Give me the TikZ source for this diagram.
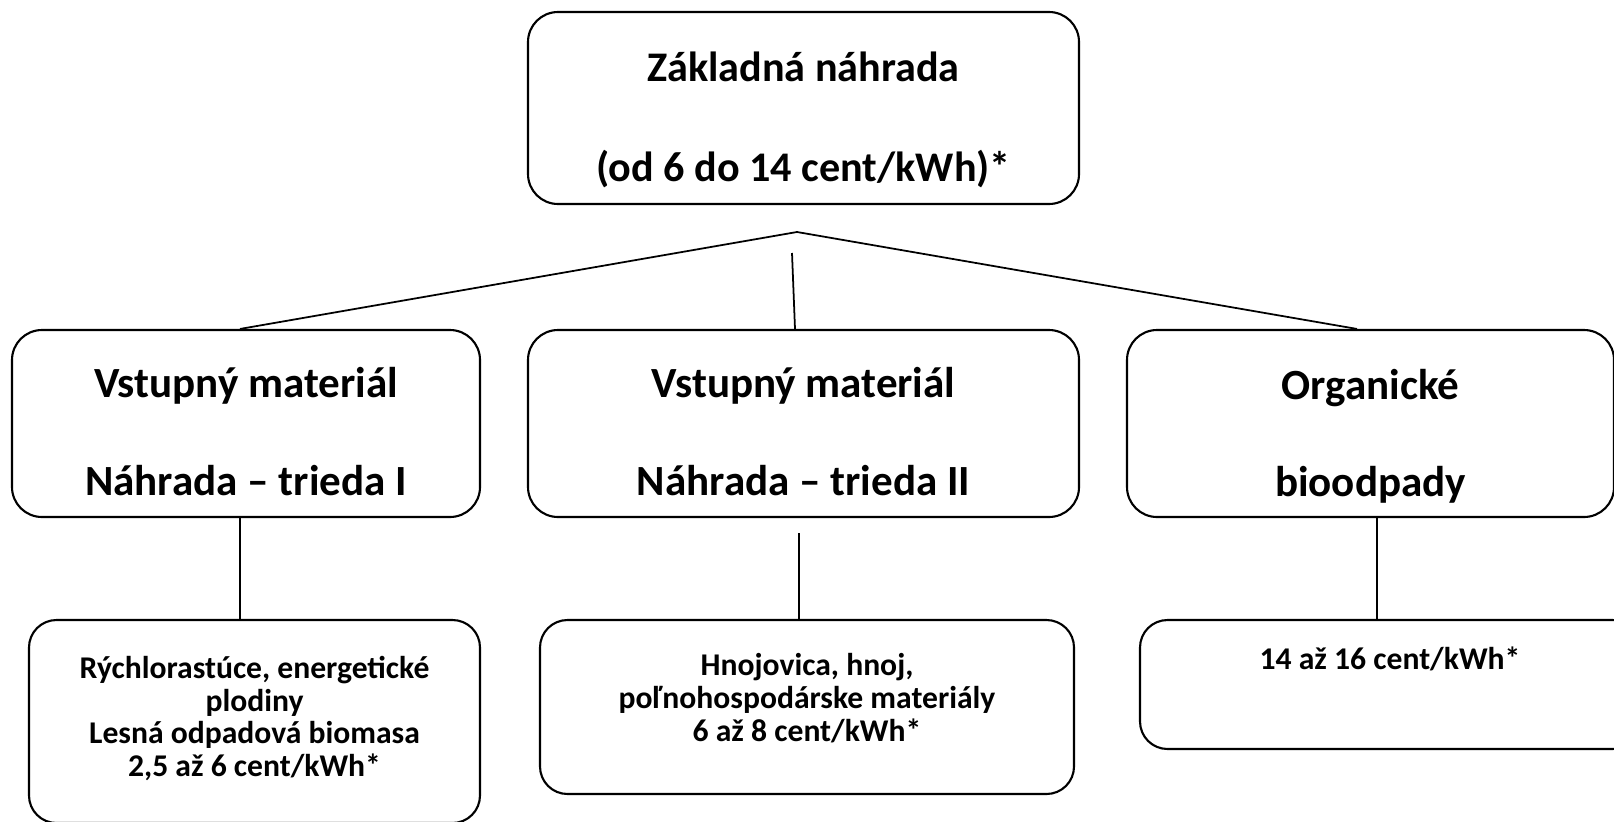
\documentclass[tikz,border=0pt]{standalone}
\usepackage{fontspec}
\setmainfont{Carlito}
\usetikzlibrary{positioning}

\begin{document}
\begin{tikzpicture}[
    box/.style ={rectangle, rounded corners=0.6cm, draw, line width=1.2pt},
    rate/.style ={box, rounded corners=0.55cm},
    head/.style ={align=center, font=\bfseries\fontsize{24}{56.6}\selectfont},
    head2/.style ={align=center, font=\bfseries\fontsize{24.5}{55.5}\selectfont},
    note/.style ={align=center, font=\bfseries\fontsize{18}{18.6}\selectfont},
    link/.style ={line width=1pt}]
   \clip (0,0) rectangle (32.28,-16.42);
   \node[box, minimum width=11.02cm, minimum height=3.84cm] (base) at (16.07,-2.16) {};
   \node[box, minimum width=9.36cm, minimum height=3.74cm] (mat1) at (4.92,-8.47) {};
   \node[box, minimum width=11.02cm, minimum height=3.74cm] (mat2) at (16.07,-8.47) {};
   \node[box, minimum width=9.74cm, minimum height=3.74cm] (bio) at (27.41,-8.47) {};
   \node[rate, minimum width=9.02cm, minimum height=4.06cm] (rate1) at (5.09,-14.43) {};
   \node[rate, minimum width=10.68cm, minimum height=3.48cm] (rate2) at (16.14,-14.14) {};
   \node[rate, minimum width=10cm, minimum height=2.58cm] (rate3) at (27.8,-13.69) {};
   % texts
   \node[head] (base-t) at ([yshift=-0.24cm]base.center) {Základná náhrada\\(od 6 do 14 cent/kWh)*};
   \node[head2] (mat1-t) at ([yshift=-0.16cm]mat1.center) {Vstupný materiál\\Náhrada – trieda I};
   \node[head2] (mat2-t) at ([yshift=-0.16cm]mat2.center) {Vstupný materiál\\Náhrada – trieda II};
   \node[head2] (bio-t) at ([yshift=-0.26cm]bio.center) {Organické\\bioodpady};
   \node[note] (rate1-t) at ([yshift=0.06cm]rate1.center) {Rýchlorastúce, energetické\\plodiny\\Lesná odpadová biomasa\\2,5 až 6 cent/kWh*};
   \node[note] (rate2-t) at ([yshift=0.18cm]rate2.center) {Hnojovica, hnoj,\\poľnohospodárske materiály\\6 až 8 cent/kWh*};
   \node[note, below=0.44cm of rate3.north] (rate3-t) {14 až 16 cent/kWh*};
   % connectors
   \coordinate (top) at (15.94,-4.64);
   \coordinate (stem) at (15.84,-5.06);
   \coordinate (stem2) at (15.98,-10.66);
   \draw[link] (top) to ([xshift=-0.12cm]mat1.north);
   \draw[link] (top) to ([xshift=-0.27cm]bio.north);
   \draw[link] (stem) to ([xshift=-0.17cm]mat2.north);
   \draw[link] ([xshift=-0.12cm]mat1.south) to ([xshift=-0.12cm]mat1.south |- rate1.north);
   \draw[link] (stem2) to (stem2 |- rate2.north);
   \draw[link] ([xshift=0.13cm]bio.south) to ([xshift=0.13cm]bio.south |- rate3.north);
\end{tikzpicture}
\end{document}
